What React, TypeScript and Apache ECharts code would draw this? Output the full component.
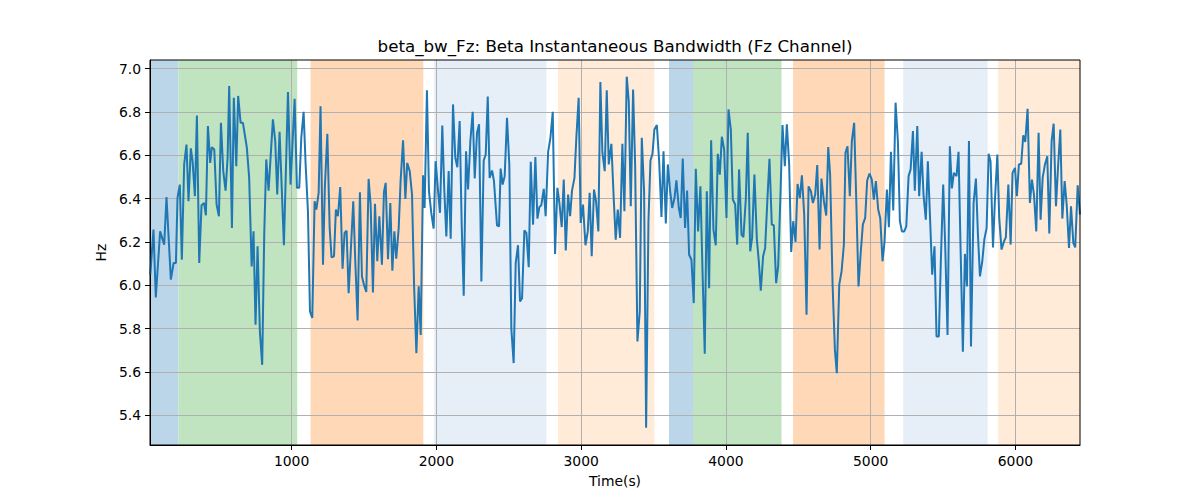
import React, { useEffect, useRef } from "react";
import * as echarts from "echarts";

const TITLE = "beta_bw_Fz: Beta Instantaneous Bandwidth (Fz Channel)";
const X_NAME = "Time(s)";
const Y_NAME = "Hz";

const X_MIN = 22;
const X_MAX = 6446;
const Y_MIN = 5.263;
const Y_MAX = 7.04;

const xTicks = [1000, 2000, 3000, 4000, 5000, 6000];
const yTicks = [5.4, 5.6, 5.8, 6.0, 6.2, 6.4, 6.6, 6.8, 7.0];

const times = [
  24, 46, 62, 92, 120, 136, 166, 185, 201, 212, 228, 242, 258, 274, 288, 304, 316, 332, 346, 362, 378, 396, 408, 422, 438, 449, 466, 482, 498, 512, 528, 544, 558, 569, 588, 601, 618, 631, 648, 664, 691, 707, 724, 737, 751, 765, 781, 797, 811,
  825, 841, 871, 887, 901, 917, 947, 975, 993, 1021, 1037, 1053, 1067, 1083, 1097, 1113, 1127, 1143, 1159, 1171, 1187, 1200, 1217, 1230, 1247, 1263, 1276, 1293, 1306, 1320, 1336, 1352, 1366, 1380, 1394, 1410, 1426, 1440, 1456, 1472, 1486, 1500, 1516, 1532, 1546, 1562, 1576, 1592, 1606,
  1624, 1638, 1650, 1666, 1682, 1696, 1710, 1723, 1740, 1753, 1770, 1786, 1799, 1816, 1832, 1846, 1862, 1878, 1892, 1908, 1919, 1935, 1949, 1965, 1981, 1995, 2011, 2025, 2041, 2055, 2069, 2085, 2099, 2115, 2131, 2145, 2161, 2175, 2189, 2205, 2219, 2235, 2251, 2265, 2281, 2295, 2311, 2327, 2341, 2355, 2368, 2385, 2398,
  2419, 2433, 2444, 2458, 2472, 2488, 2504, 2518, 2534, 2548, 2564, 2578, 2592, 2608, 2622, 2638, 2652, 2668, 2684, 2698, 2712, 2725, 2742, 2755, 2772, 2788, 2804, 2820, 2836, 2850, 2866, 2880, 2894, 2910, 2924, 2937, 2954, 2967, 2983, 2997, 3013, 3030, 3046, 3059, 3073, 3089, 3103, 3119, 3133, 3147, 3163, 3177, 3191,
  3209, 3225, 3239, 3253, 3269, 3285, 3299, 3315, 3329, 3343, 3359, 3373, 3389, 3405, 3419, 3435, 3449, 3465, 3479, 3493, 3506, 3523, 3539, 3555, 3569, 3585, 3599, 3615, 3629, 3645, 3658, 3675, 3688, 3702, 3718, 3732, 3746, 3762, 3778, 3792, 3808, 3824, 3838, 3854, 3868, 3884, 3898, 3914, 3930, 3944, 3958, 3972, 3988,
  4004, 4018, 4034, 4048, 4064, 4078, 4091, 4108, 4121, 4138, 4151, 4168, 4181, 4197, 4214, 4227, 4241, 4257, 4271, 4287, 4301, 4317, 4331, 4347, 4361, 4377, 4391, 4407, 4421, 4437, 4451, 4465, 4481, 4495, 4511, 4525, 4541, 4557, 4571, 4587, 4601, 4617, 4631, 4647, 4660, 4677, 4693, 4707, 4720, 4737, 4753, 4766, 4783,
  4799, 4815, 4826, 4840, 4856, 4870, 4886, 4902, 4916, 4932, 4946, 4962, 4976, 4992, 5008, 5022, 5036, 5052, 5066, 5082, 5096, 5112, 5126, 5140, 5156, 5172, 5188, 5202, 5216, 5232, 5246, 5262, 5276, 5292, 5305, 5322, 5335, 5352, 5365, 5381, 5395, 5411, 5425, 5441, 5455, 5471, 5485, 5501, 5515, 5531, 5547, 5561, 5575,
  5593, 5607, 5621, 5637, 5651, 5665, 5679, 5693, 5711, 5727, 5741, 5755, 5771, 5785, 5801, 5815, 5828, 5845, 5858, 5875, 5888, 5904, 5921, 5934, 5951, 5967, 5980, 5997, 6010, 6024, 6040, 6054, 6068, 6084, 6100, 6114, 6128, 6144, 6160, 6174, 6188, 6204, 6220, 6234, 6250, 6264, 6280, 6294, 6310, 6324, 6340, 6354, 6370, 6384, 6400, 6413, 6430, 6446,
];

const values = [
  6.049, 6.257, 5.944, 6.249, 6.188, 6.407, 6.026, 6.103, 6.103, 6.403, 6.465, 6.118, 6.558, 6.65, 6.388, 6.632, 6.573, 6.411, 6.784, 6.103, 6.37, 6.38, 6.323, 6.735, 6.565, 6.638, 6.627, 6.373, 6.319, 6.75, 6.527, 6.437, 6.588, 6.92, 6.265, 6.866, 6.55, 6.874, 6.75, 6.75, 6.635, 6.496, 6.087, 6.249, 5.818, 6.18, 5.787, 5.633, 6.234,
  6.581, 6.437, 6.766, 6.666, 6.419, 6.709, 6.185, 6.892, 6.465, 6.861, 6.45, 6.45, 6.681, 6.801, 6.558, 6.342, 5.879, 5.849, 6.388, 6.35, 6.427, 6.827, 6.095, 6.457, 6.699, 6.265, 6.129, 6.134, 6.35, 6.319, 6.454, 6.077, 6.242, 6.252, 5.964, 6.172, 6.388, 6.111, 5.838, 6.43, 6.041, 6.003, 5.969, 6.491, 6.373, 5.967, 6.376, 6.111, 6.319,
  6.095, 6.431, 6.473, 6.121, 6.38, 6.067, 6.249, 6.123, 6.265, 6.481, 6.669, 6.399, 6.565, 6.527, 6.419, 6.003, 5.687, 5.995, 5.771, 6.508, 6.357, 6.9, 6.434, 6.334, 6.262, 6.573, 6.442, 6.334, 6.738, 6.437, 6.226, 6.527, 6.215, 6.835, 6.588, 6.545, 6.758, 6.28, 5.952, 6.619, 6.442, 6.666, 6.801, 6.493, 6.704, 6.743, 6.018, 6.576, 6.604, 6.871, 6.496, 6.53, 6.481,
  6.277, 6.272, 6.539, 6.465, 6.504, 6.773, 6.558, 5.799, 5.641, 6.103, 6.185, 5.926, 5.941, 6.254, 6.242, 6.084, 6.57, 6.28, 6.592, 6.308, 6.362, 6.37, 6.445, 6.319, 6.616, 6.681, 6.801, 6.145, 6.45, 6.38, 6.269, 6.488, 6.161, 6.419, 6.319, 6.437, 6.496, 6.681, 6.866, 6.288, 6.373, 6.185, 6.249, 6.427, 6.134, 6.442, 6.388, 6.249, 6.938, 6.612, 6.527, 6.9, 6.558,
  6.653, 6.403, 6.211, 6.35, 6.219, 6.653, 6.342, 6.963, 6.85, 6.365, 6.904, 6.558, 5.741, 5.879, 6.681, 6.434, 5.343, 6.296, 6.576, 6.607, 6.719, 6.74, 6.573, 6.316, 6.619, 6.285, 6.558, 6.434, 6.357, 6.403, 6.484, 6.357, 6.311, 6.585, 6.265, 6.437, 6.141, 6.118, 5.918, 6.538, 6.249, 6.457, 6.08, 5.684, 6.434, 5.987, 6.669, 6.257, 6.185, 6.607, 6.511, 6.686, 6.627,
  6.311, 6.812, 6.719, 6.396, 6.373, 6.188, 6.535, 6.234, 6.222, 6.403, 6.704, 6.157, 6.219, 6.511, 6.211, 6.114, 5.975, 6.134, 6.172, 6.4, 6.584, 6.28, 6.277, 6.01, 6.087, 6.419, 6.74, 6.55, 6.743, 6.558, 6.154, 6.296, 6.2, 6.468, 6.403, 6.508, 6.326, 5.864, 6.457, 6.434, 6.38, 6.419, 6.555, 6.165, 6.493, 6.388, 6.322, 6.638, 6.511, 6.003, 5.702, 5.594, 6.003,
  6.064, 6.188, 6.612, 6.642, 6.411, 6.666, 6.75, 6.357, 5.995, 6.157, 6.28, 6.311, 6.484, 6.516, 6.488, 6.396, 6.481, 6.35, 6.311, 6.111, 6.203, 6.442, 6.268, 6.616, 6.345, 6.843, 6.666, 6.296, 6.249, 6.249, 6.272, 6.504, 6.535, 6.712, 6.437, 6.735, 6.411, 6.616, 6.419, 6.303, 6.573, 6.296, 6.049, 6.18, 5.764, 5.764, 6.118, 6.465, 6.18, 5.771, 6.642, 6.447, 6.519,
  6.504, 6.616, 6.172, 5.694, 6.145, 5.995, 6.666, 5.718, 6.38, 6.493, 6.234, 6.041, 6.111, 6.211, 6.265, 6.607, 6.573, 6.175, 6.388, 6.604, 6.311, 6.165, 6.203, 6.222, 6.465, 6.188, 6.519, 6.542, 6.411, 6.558, 6.561, 6.692, 6.662, 6.815, 6.38, 6.488, 6.419, 6.249, 6.704, 6.303, 6.496, 6.558, 6.596, 6.239, 6.666, 6.746, 6.365, 6.542, 6.719, 6.308, 6.481, 6.373, 6.172, 6.365, 6.195, 6.175, 6.462, 6.326,
];

// shaded time spans (start, end, kind)
const spanStarts = [22, 219, 1131, 1985, 2840, 3607, 3773, 4464, 5225, 5881];
const spanEnds = [219, 1039, 1910, 2760, 3506, 3773, 4384, 5096, 5808, 6446];
const spanKinds = ["blue", "green", "orange", "lightblue", "lightorange", "blue", "green", "orange", "lightblue", "lightorange"];

const KIND_COLORS: Record<string, string> = {
  blue: "#bcd6e9",
  green: "#c0e3c0",
  orange: "#ffd9b7",
  lightblue: "#e6eef8",
  lightorange: "#ffebd7",
};

const FONT = "DejaVu Sans";

export default function App() {
  const ref = useRef<HTMLDivElement>(null);
  useEffect(() => {
    if (!ref.current) return;
    const chart = echarts.init(ref.current, null, { renderer: "svg" });
    const lineData = times.map((t, i) => [t, values[i]]);
    const areas = spanStarts.map((s, i) => [
      { xAxis: s, itemStyle: { color: KIND_COLORS[spanKinds[i]], opacity: 1 } },
      { xAxis: spanEnds[i] },
    ]);
    chart.setOption({
      animation: false,
      backgroundColor: "#ffffff",
      textStyle: { fontFamily: FONT },
      title: {
        text: TITLE,
        left: 615,
        top: 37,
        textAlign: "center",
        padding: 0,
        textStyle: { fontFamily: FONT, fontSize: 16.7, fontWeight: "normal", color: "#000" },
      },
      grid: {
        left: 150,
        right: 120,
        top: 60,
        bottom: 55,
        show: true,
        borderColor: "#000",
        borderWidth: 1,
        backgroundColor: "transparent",
        containLabel: false,
        outerBoundsMode: "none",
        z: 3,
      },
      xAxis: {
        type: "value",
        min: X_MIN,
        max: X_MAX,
        minInterval: 1000,
        maxInterval: 1000,
        splitNumber: 6,
        z: 1.5,
        name: X_NAME,
        nameLocation: "middle",
        nameGap: 29,
        nameTextStyle: { fontFamily: FONT, fontSize: 13.9, color: "#000" },
        axisLine: { show: true, onZero: false, lineStyle: { color: "#000", width: 1 } },
        axisTick: { show: true, length: 5, lineStyle: { color: "#000", width: 1 }, customValues: xTicks },
        axisLabel: {
          customValues: xTicks,
          fontFamily: FONT,
          fontSize: 13.9,
          color: "#000",
          margin: 9,
          formatter: (v: number) => String(Math.round(v)),
        },
        splitLine: { show: true, lineStyle: { color: "#b0b0b0", width: 1 } },
      },
      yAxis: {
        type: "value",
        min: Y_MIN,
        max: Y_MAX,
        minInterval: 0.2,
        maxInterval: 0.2,
        splitNumber: 8,
        z: 1.5,
        name: Y_NAME,
        nameLocation: "middle",
        nameGap: 38,
        nameRotate: 90,
        nameTextStyle: { fontFamily: FONT, fontSize: 13.9, color: "#000" },
        axisLine: { show: true, onZero: false, lineStyle: { color: "#000", width: 1 } },
        axisTick: { show: true, length: 5, lineStyle: { color: "#000", width: 1 }, customValues: yTicks },
        axisLabel: {
          customValues: yTicks,
          fontFamily: FONT,
          fontSize: 13.9,
          color: "#000",
          margin: 9,
          formatter: (v: number) => v.toFixed(1),
        },
        splitLine: { show: true, lineStyle: { color: "#b0b0b0", width: 1 } },
      },
      series: [
        {
          type: "line",
          name: "beta_bw_Fz",
          data: lineData,
          showSymbol: false,
          symbol: "none",
          z: 2,
          lineStyle: { color: "#1f77b4", width: 2 },
          itemStyle: { color: "#1f77b4" },
          markArea: { silent: true, z: 1, data: areas },
        },
      ],
    });
    return () => chart.dispose();
  }, []);
  return <div ref={ref} style={{ position: "fixed", left: 0, top: 0, width: 1200, height: 500 }} />;
}
